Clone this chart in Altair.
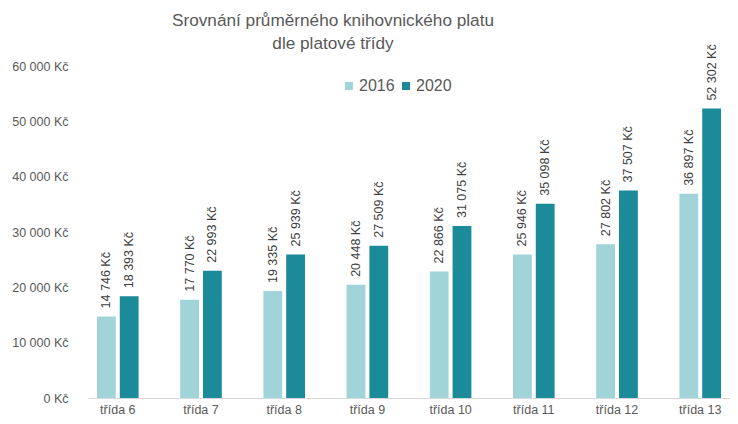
import altair as alt
import pandas as pd

classes = ["třída 6", "třída 7", "třída 8", "třída 9", "třída 10", "třída 11", "třída 12", "třída 13"]
years = ["2016", "2020"]
values_2016 = [14746, 17770, 19335, 20448, 22866, 25946, 27802, 36897]
values_2020 = [18393, 22993, 25939, 27509, 31075, 35098, 37507, 52302]
title_lines = ["Srovnání průměrného knihovnického platu", "dle platové třídy"]
colors = ["#a0d4d9", "#1b8a99"]

rows = []
for yr, vals in zip(years, [values_2016, values_2020]):
    for c, v in zip(classes, vals):
        rows.append({"cls": c, "year": yr, "value": v,
                     "label": f"{v:,}".replace(",", " ") + " Kč"})
df = pd.DataFrame(rows)

FONT = "Liberation Sans"

base = alt.Chart(df).encode(
    x=alt.X("cls:N", sort=classes, title=None,
            scale=alt.Scale(paddingInner=0.5, paddingOuter=0.108),
            axis=alt.Axis(labelAngle=0, ticks=False, domainColor="#d9d9d9",
                          labelColor="#595959", labelFontSize=12.5, labelFont=FONT,
                          labelPadding=5)),
    xOffset=alt.XOffset("year:N", sort=years, scale=alt.Scale(paddingInner=0.175)),
    y=alt.Y("value:Q", title=None,
            scale=alt.Scale(domain=[0, 60000], nice=False),
            axis=alt.Axis(values=[0, 10000, 20000, 30000, 40000, 50000, 60000],
                          labelExpr="replace(format(datum.value, ',d'), ',', ' ') + ' Kč'",
                          grid=False, domain=False, ticks=False, labelPadding=20,
                          labelColor="#595959", labelFontSize=12.5, labelFont=FONT)),
)

bars = base.mark_bar().encode(
    color=alt.Color("year:N", sort=years, scale=alt.Scale(domain=years, range=colors),
                    legend=alt.Legend(title=None, orient="none", legendX=253, legendY=12,
                                      direction="horizontal", symbolType="square",
                                      symbolSize=64, symbolStrokeWidth=0,
                                      labelFontSize=16, labelFont=FONT, labelColor="#595959",
                                      labelOffset=2, columnPadding=3, padding=0))
)

labels = base.mark_text(angle=270, align="left", baseline="middle", dx=8,
                        fontSize=12.5, font=FONT, color="#404040").encode(text="label:N")

chart = alt.layer(bars, labels).properties(
    width=642, height=332,
    autosize=alt.AutoSizeParams(type="none"),
    padding={"left": 80, "top": 58, "right": 0, "bottom": 18},
    title=alt.TitleParams(text=title_lines, fontSize=17.2, fontWeight="normal", font=FONT,
                          color="#595959", anchor="middle", dx=-76, dy=22, lineHeight=23,
                          offset=14),
).configure_view(stroke=None)

chart.save("out.html", embed_options={"renderer": "svg", "actions": False})
